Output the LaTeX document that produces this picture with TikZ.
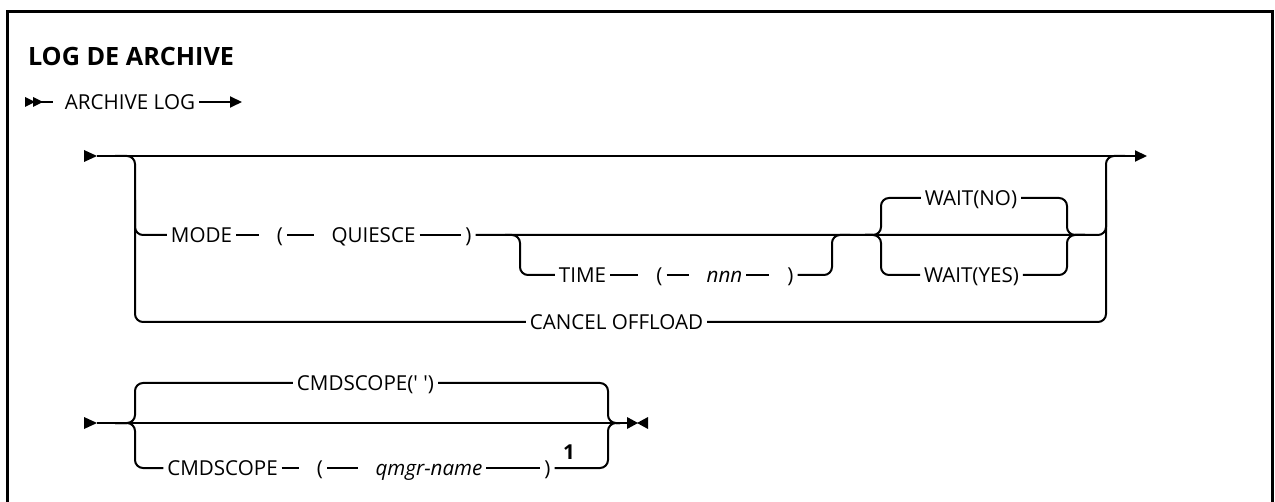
\documentclass[tikz,border=0pt]{standalone}
\usepackage{fontspec}
\setmainfont{Open Sans}
\usetikzlibrary{arrows.meta}

\begin{document}
\begin{tikzpicture}[x=0.5pt, y=-0.5pt, line width=1pt,
        >={Triangle[length=6pt,width=5.5pt]}, %Pfeilspitzen
        tok/.style={inner sep=0pt, outer xsep=2pt, text height=7.5pt, text depth=0pt,
            font=\fontsize{10.3}{12}\selectfont},
        var/.style={tok, font=\fontsize{10.3}{12}\selectfont\itshape},
        tokline/.style={shorten >=7pt},
        rc/.style={rounded corners=4pt}]
    \useasboundingbox (0,0) rectangle (1275,502);
    \clip (0,0) rectangle (1275,502);
    \draw[line width=1.5pt] (7.5,560) |- (1272.5,11.5) -- (1272.5,560); %Rahmen
    \node[anchor=west, inner sep=0pt, font=\fontsize{12.6}{14}\selectfont\bfseries] (title) at (27,56) {LOG DE ARCHIVE};

    % Kopfzeile
    \fill (25,97) -- (35,102) -- (25,107) -- cycle;
    \fill (33,97) -- (43,102) -- (33,107) -- cycle;
    \coordinate (h0) at (53,102);
    \coordinate (h1) at (242,102);
    \node[tok] (arch) at (130,102) {ARCHIVE LOG};
    \draw (33,102) -- (h0);
    \draw[->] (arch) -- (h1);

    % erster Block
    \coordinate (s1) at (97,156);
    \coordinate (e1) at (1147,156);
    \coordinate (lbtop) at (115,156);
    \coordinate (rbtop) at (1125,156);
    \fill (84,150) -- (97,156) -- (84,162) -- cycle;
    \draw[->] (s1) -- (e1);
    \node[tok] (mode) at (201.5,235) {MODE};
    \node[tok] (lpa) at (280,235) {(};
    \node[tok] (quiesce) at (373.5,235) {QUIESCE};
    \node[tok] (rpa) at (468.5,235) {)};
    \node[tok] (time) at (582.5,275) {TIME};
    \node[tok] (lpb) at (659.5,275) {(};
    \node[var] (nnn) at (724.5,275) {nnn};
    \node[tok] (rpb) at (790.5,275) {)};
    \node[tok] (wno) at (971,198) {WAIT(NO)};
    \node[tok] (wyes) at (971.5,275) {WAIT(YES)};
    \node[tok] (cancel) at (616.5,322) {CANCEL OFFLOAD};
    \draw[rc] (lbtop) -| (135,322) -- (cancel);
    \draw[rc] (cancel) -| (1106,156) -- (rbtop);
    \draw[rc] (135,200) |- (mode);
    \foreach \a/\b in {mode/lpa, lpa/quiesce}
        \draw[tokline] (\a) -- (\b);
    \draw (quiesce) -- (rpa);
    \draw[rc] (rpa) -| (1106,200);
    \draw[rc] (505,235) -| (520,275) -- (time);
    \foreach \a/\b in {time/lpb, lpb/nnn, nnn/rpb}
        \draw[tokline] (\a) -- (\b);
    \draw[rc] (rpb) -| (832,235) -- (850,235);
    \draw[rc] (865,235) -| (881,198) -- (wno);
    \draw[rc] (865,235) -| (881,275) -- (wyes);
    \draw[rc] (wno) -| (1067,235) -- (1085,235);
    \draw[rc] (wyes) -| (1067,235) -- (1085,235);

    % zweiter Block
    \coordinate (s2) at (97,423);
    \coordinate (e2) at (627,423);
    \coordinate (lb2) at (115,423);
    \coordinate (rb2) at (620,423);
    \fill (84,417) -- (97,423) -- (84,429) -- cycle;
    \draw (s2) -- (e2);
    \fill (627,417) -- (638,423) -- (627,429) -- cycle; %Ende
    \fill (648,417) -- (637,423) -- (648,429) -- cycle;
    \node[tok] (cs1) at (365.5,383) {CMDSCOPE(\textquotesingle\ \textquotesingle)};
    \node[tok] (cs2) at (222.5,468) {CMDSCOPE};
    \node[tok] (lpc) at (320,468) {(};
    \node[var] (qmgr) at (429,468) {qmgr-name};
    \node[tok] (rpc) at (547.5,468) {)};
    \node[tok, font=\fontsize{10.3}{12}\selectfont\bfseries] (fn) at (569,452) {1};
    \draw[rc] (lb2) -| (135,383) -- (cs1);
    \draw[rc] (lb2) -| (135,468) -- (cs2);
    \draw[rc] (cs1) -| (608,423) -- (rb2);
    \draw[rc] (rpc) -| (608,423) -- (rb2);
    \foreach \a/\b in {cs2/lpc, lpc/qmgr}
        \draw[tokline] (\a) -- (\b);
    \draw (qmgr) -- (rpc);
\end{tikzpicture}
\end{document}
